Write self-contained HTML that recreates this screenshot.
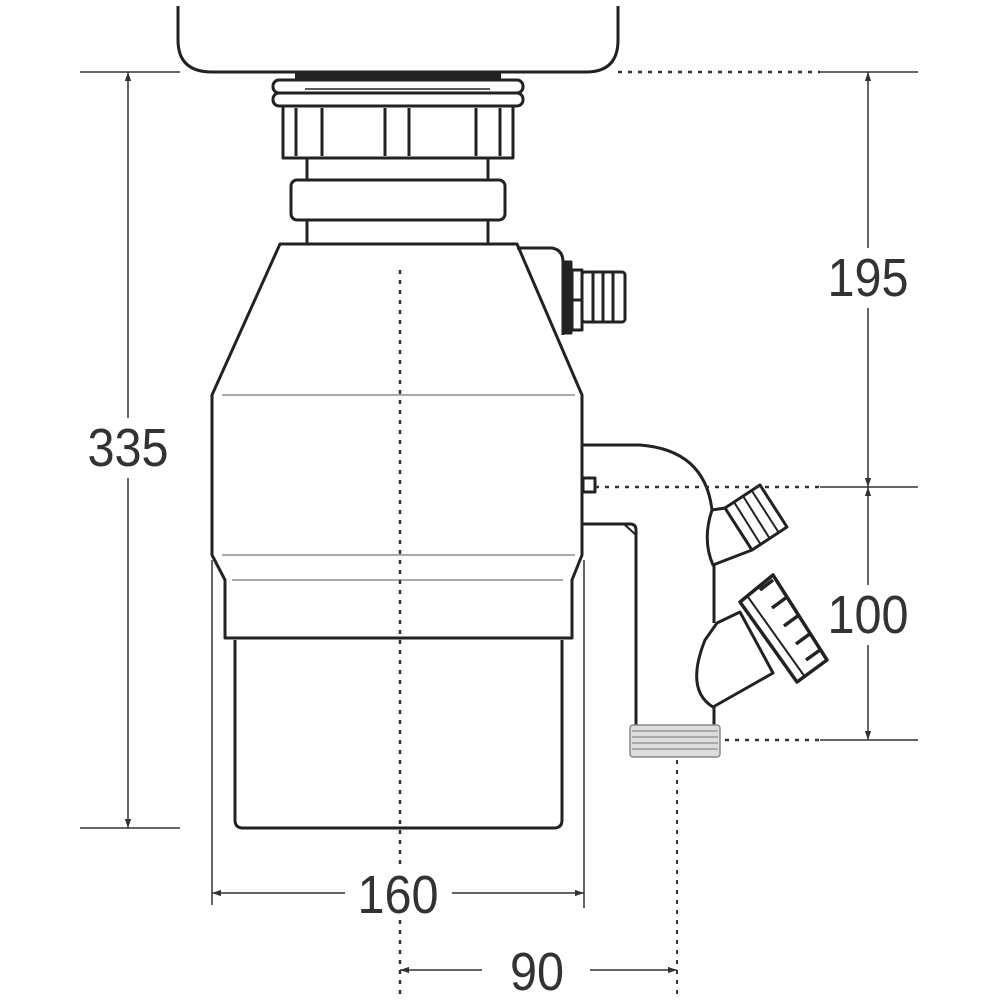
<!DOCTYPE html>
<html><head><meta charset="utf-8"><style>
html,body{margin:0;padding:0;background:#fff;}
svg{display:block}
text{font-family:"Liberation Sans",sans-serif;fill:#333;}
</style></head><body>
<svg width="1000" height="1000" viewBox="0 0 1000 1000" xmlns="http://www.w3.org/2000/svg">
<defs>
<marker id="a" viewBox="0 0 10 10" refX="10" refY="5" markerWidth="9" markerHeight="9" orient="auto-start-reverse" markerUnits="userSpaceOnUse"><path d="M0,1.5 L10,5 L0,8.5z" fill="#333"/></marker>
</defs>
<g fill="none" stroke="#222" stroke-width="3" stroke-linejoin="round">
<path d="M178,6 V40 Q178,72 212,72 H586 Q618,72 618,40 V6"/>
<rect x="295" y="72" width="206" height="7" fill="#222" stroke="none"/>
<rect x="273" y="80" width="250" height="13" rx="6"/>
<rect x="273" y="93" width="250" height="13" rx="6"/>
<line x1="305" y1="89" x2="490" y2="89" stroke-width="1.5"/>
<rect x="283" y="106" width="230" height="52"/>
<path d="M296,108V156 M322,108V156 M385,108V156 M409,108V156 M476,108V156 M500,108V156"/>
<path d="M307,158V245 M488,158V245"/>
<rect x="291" y="180" width="214" height="40" rx="6" fill="#fff"/>
<path d="M280,244 H517 L582,395 V555 L572,580 V638 H225 V580 L212,555 V395 Z" fill="#fff"/>
<path d="M517,248 H552 Q563,250 563,262 V335"/>
<rect x="565" y="262" width="6" height="71" fill="#222"/>
<rect x="572" y="270" width="10" height="60"/>
<line x1="572" y1="300" x2="582" y2="300"/>
<rect x="582" y="272" width="43" height="50" rx="3"/>
<path d="M593,273V321 M603,273V321 M613,273V321"/>
<path d="M235,640 V820 Q235,828 243,828 H554 Q562,828 562,820 V640"/>
<!-- outlet pipe -->
<path d="M583,445 H640 Q705,450 712,510"/>
<rect x="583" y="478" width="12" height="14"/>
<path d="M583,524 H630 Q636,524 636,530 V725"/>
<path d="M624,524 L636,535" stroke-width="2"/>
<!-- upper cone + cap -->
<path d="M712,510 L725,508 L752,550 L713,565 Q702,540 712,510 Z" fill="#fff"/>
<path d="M725,508 L760,485 L787,527 L752,550 Z" fill="#fff"/>
<path d="M734,502 L761,545 M743,496 L770,539 M752,491 L779,533" stroke-width="2"/>
<path d="M714,565 V623"/>
<!-- lower cone + nut -->
<path d="M717,623 L740,612 L773,673 L713,707 Q685,690 705,640 Z" fill="#fff"/>
<path d="M740,602 L773,575 L827,660 L797,682 Z" fill="#fff" stroke-width="3.5"/>
<path d="M748,597 L805,677" stroke-width="2"/>
<path d="M760,590 L773,580 M772,608 L787,597 M784,626 L799,615 M796,644 L811,633 M806,660 L820,650" stroke-width="3.5"/>
<path d="M714,707 V725"/>
<rect x="630" y="725" width="90" height="32" rx="3" fill="#ddd" stroke="#888" stroke-width="1.5"/>
<path d="M632,731H718 M632,737H718 M632,743H718 M632,749H718" stroke="#999" stroke-width="1.5"/>
</g>
<g stroke="#aaa" stroke-width="2">
<line x1="222" y1="395" x2="575" y2="395"/>
<line x1="222" y1="555" x2="575" y2="555"/>
<line x1="232" y1="580" x2="563" y2="580"/>
</g>
<g stroke="#333" stroke-width="1.5" fill="none">
<line x1="80" y1="72" x2="180" y2="72"/>
<line x1="80" y1="828" x2="180" y2="828"/>
<line x1="128" y1="72" x2="128" y2="418" marker-start="url(#a)"/>
<line x1="128" y1="478" x2="128" y2="828" marker-end="url(#a)"/>
<line x1="618" y1="72" x2="820" y2="72" stroke-dasharray="4,6" stroke-width="2.5"/>
<line x1="820" y1="72" x2="918" y2="72"/>
<line x1="595" y1="487" x2="820" y2="487" stroke-dasharray="4,6" stroke-width="2.5"/>
<line x1="820" y1="487" x2="918" y2="487"/>
<line x1="725" y1="740" x2="820" y2="740" stroke-dasharray="4,6" stroke-width="2.5"/>
<line x1="820" y1="740" x2="918" y2="740"/>
<line x1="868" y1="72" x2="868" y2="248" marker-start="url(#a)"/>
<line x1="868" y1="308" x2="868" y2="487" marker-end="url(#a)"/>
<line x1="868" y1="487" x2="868" y2="585" marker-start="url(#a)"/>
<line x1="868" y1="645" x2="868" y2="740" marker-end="url(#a)"/>
<line x1="212" y1="560" x2="212" y2="905"/>
<line x1="584" y1="560" x2="584" y2="908"/>
<line x1="212" y1="893" x2="345" y2="893" marker-start="url(#a)"/>
<line x1="452" y1="893" x2="584" y2="893" marker-end="url(#a)"/>
<line x1="400" y1="270" x2="400" y2="1000" stroke-dasharray="4,6" stroke-width="2.5"/>
<line x1="677" y1="760" x2="677" y2="1000" stroke-dasharray="4,6" stroke-width="2"/>
<line x1="400" y1="970" x2="482" y2="970" marker-start="url(#a)"/>
<line x1="590" y1="970" x2="677" y2="970" marker-end="url(#a)"/>
</g>
<g font-size="54" text-anchor="middle">
<rect x="80" y="420" width="96" height="56" fill="#fff"/>
<text x="128" y="466" transform="translate(128 0) scale(0.9 1) translate(-128 0)">335</text>
<text x="868" y="296" transform="translate(868 0) scale(0.9 1) translate(-868 0)">195</text>
<text x="868" y="633" transform="translate(868 0) scale(0.9 1) translate(-868 0)">100</text>
<rect x="352" y="866" width="96" height="54" fill="#fff"/>
<text x="398" y="913" transform="translate(398 0) scale(0.9 1) translate(-398 0)">160</text>
<text x="537" y="990" transform="translate(537 0) scale(0.9 1) translate(-537 0)">90</text>
</g>
</svg>
</body></html>
